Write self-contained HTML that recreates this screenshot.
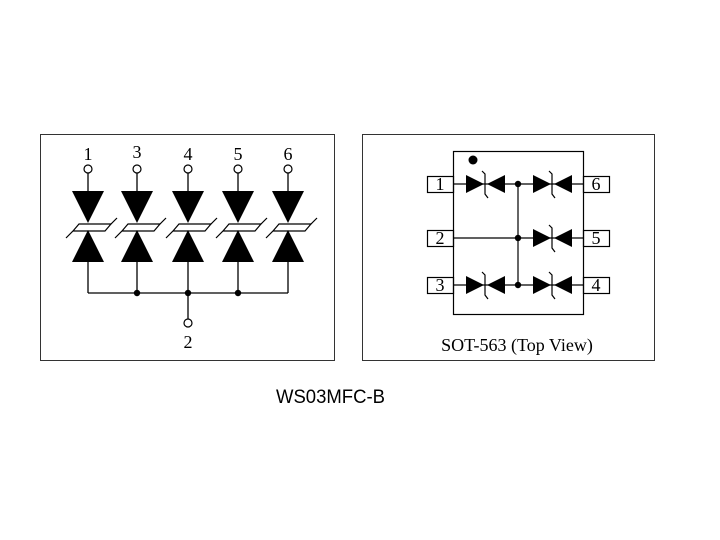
<!DOCTYPE html>
<html><head><style>body{margin:0;background:#fff}svg{display:block}</style></head><body>
<svg width="720" height="540" xmlns="http://www.w3.org/2000/svg">
<defs>
<g id="vd">
<line x1="0" y1="173" x2="0" y2="191" stroke="#000" stroke-width="1.3"/>
<polygon points="-16,191 16,191 0,223" fill="#000"/>
<polygon points="0,230 -16,262 16,262" fill="#000"/>
<polyline points="-22,238 -15,231 17,231 23,224 -9,224 -15,231" fill="none" stroke="#000" stroke-width="1.2"/>
<line x1="23" y1="224" x2="29" y2="218" stroke="#000" stroke-width="1.2"/>
<line x1="0" y1="262" x2="0" y2="293" stroke="#000" stroke-width="1.3"/>
<circle cx="0" cy="169" r="4" fill="#fff" stroke="#000" stroke-width="1.2"/>
</g>
<g id="hd">
<polygon points="0,-9 0,9 18,0" fill="#000"/>
<polygon points="39,-9 39,9 21,0" fill="#000"/>
<polyline points="16,-13 19,-10 19,10 22,14" fill="none" stroke="#000" stroke-width="1.2"/>
</g>
</defs>
<rect x="40.5" y="134.5" width="294" height="226" fill="none" stroke="#333" stroke-width="1"/>
<rect x="362.5" y="134.5" width="292" height="226" fill="none" stroke="#333" stroke-width="1"/>
<g font-family="Liberation Serif, serif" font-size="18" text-anchor="middle">
<use href="#vd" x="88"/><use href="#vd" x="137"/><use href="#vd" x="188"/><use href="#vd" x="238"/><use href="#vd" x="288"/>
<text x="88" y="160">1</text><text x="137" y="158">3</text><text x="188" y="160">4</text><text x="238" y="160">5</text><text x="288" y="160">6</text>
<line x1="88" y1="293" x2="288" y2="293" stroke="#000" stroke-width="1.3"/>
<line x1="188" y1="293" x2="188" y2="319" stroke="#000" stroke-width="1.3"/>
<circle cx="188" cy="323" r="4" fill="#fff" stroke="#000" stroke-width="1.2"/>
<circle cx="137" cy="293" r="3.2"/><circle cx="188" cy="293" r="3.2"/><circle cx="238" cy="293" r="3.2"/>
<text x="188" y="348">2</text>
</g>
<g stroke="#000" stroke-width="1.2" fill="none">
<rect x="453.5" y="151.5" width="130" height="163"/>
<rect x="427.5" y="176.5" width="26" height="16"/><rect x="427.5" y="230.5" width="26" height="16"/><rect x="427.5" y="277.5" width="26" height="16"/>
<rect x="583.5" y="176.5" width="26" height="16"/><rect x="583.5" y="230.5" width="26" height="16"/><rect x="583.5" y="277.5" width="26" height="16"/>
<line x1="453" y1="184" x2="583" y2="184"/>
<line x1="453" y1="238" x2="583" y2="238"/>
<line x1="453" y1="285" x2="583" y2="285"/>
<line x1="518" y1="184" x2="518" y2="285"/>
</g>
<circle cx="473" cy="160" r="4.5"/>
<circle cx="518" cy="184" r="3.2"/><circle cx="518" cy="238" r="3.2"/><circle cx="518" cy="285" r="3.2"/>
<use href="#hd" x="466" y="184"/><use href="#hd" x="466" y="285"/>
<use href="#hd" x="533" y="184"/><use href="#hd" x="533" y="238"/><use href="#hd" x="533" y="285"/>
<g font-family="Liberation Serif, serif" font-size="18" text-anchor="middle">
<text x="440" y="190">1</text><text x="440" y="244">2</text><text x="440" y="291">3</text>
<text x="596" y="190">6</text><text x="596" y="244">5</text><text x="596" y="291">4</text>
<text x="517" y="351">SOT-563 (Top View)</text>
</g>
<text x="276" y="403" font-family="Liberation Sans, sans-serif" font-size="19" textLength="109" lengthAdjust="spacingAndGlyphs">WS03MFC-B</text>
</svg>
</body></html>
